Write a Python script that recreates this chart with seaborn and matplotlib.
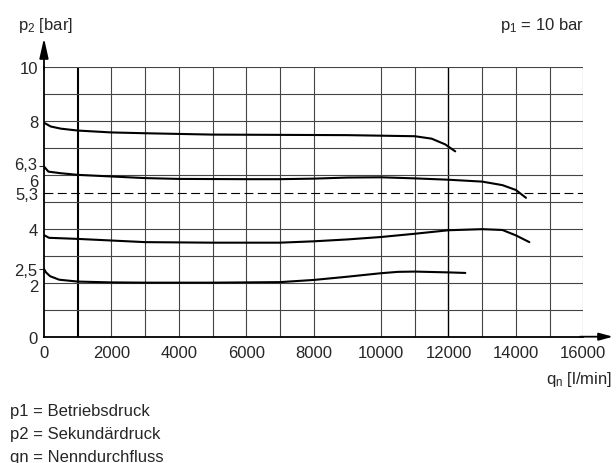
import numpy as np
import pandas as pd
import matplotlib
matplotlib.use("Agg")
import matplotlib.pyplot as plt
import matplotlib.transforms as mtransforms
import seaborn as sns

# Data (q in l/min, p in bar)
q_8 = [0, 200, 500, 1000, 2000, 3000, 5000, 7000, 9000, 10000, 11000, 11500, 11900, 12200]
p_8 = [7.92, 7.78, 7.70, 7.63, 7.56, 7.53, 7.48, 7.47, 7.46, 7.44, 7.42, 7.33, 7.12, 6.86]

q_6 = [0, 130, 500, 1000, 2000, 3000, 4000, 6000, 7000, 8000, 9000, 10000, 11000, 12000, 13000, 13600, 14000, 14300]
p_6 = [6.30, 6.11, 6.05, 5.99, 5.93, 5.87, 5.84, 5.83, 5.83, 5.85, 5.89, 5.90, 5.86, 5.81, 5.74, 5.61, 5.43, 5.14]

q_4 = [0, 150, 1000, 2000, 3000, 5000, 7000, 8000, 9000, 10000, 11000, 12000, 13000, 13600, 14000, 14400]
p_4 = [3.76, 3.66, 3.62, 3.56, 3.50, 3.48, 3.48, 3.53, 3.60, 3.69, 3.81, 3.94, 3.98, 3.95, 3.75, 3.50]

q_2 = [0, 60, 180, 450, 1000, 2000, 3000, 5000, 7000, 8000, 9000, 10000, 10500, 11000, 12000, 12500]
p_2 = [2.51, 2.38, 2.24, 2.11, 2.04, 2.01, 2.00, 2.00, 2.02, 2.10, 2.22, 2.35, 2.40, 2.41, 2.38, 2.36]

p_ref = 5.3
y_ticks = [0, 2, 4, 5.3, 6, 8, 10]
y_tick_labels = ["0", "2", "4", "5,3", "6", "8", "10"]
y_minor = [2.5, 6.3]
y_minor_labels = ["2,5", "6,3"]
x_ticks = list(range(0, 16001, 2000))
notes = ["p1 = Betriebsdruck", "p2 = Sekundärdruck", "qn = Nenndurchfluss"]

df = pd.concat([
    pd.DataFrame({"q": q_8, "p": p_8, "curve": "8"}),
    pd.DataFrame({"q": q_6, "p": p_6, "curve": "6"}),
    pd.DataFrame({"q": q_4, "p": p_4, "curve": "4"}),
    pd.DataFrame({"q": q_2, "p": p_2, "curve": "2"}),
])

sns.set_style("white")
plt.rcParams["font.family"] = ["Liberation Sans", "DejaVu Sans"]
plt.rcParams["mathtext.fontset"] = "custom"
plt.rcParams["mathtext.rm"] = "Liberation Sans"
plt.rcParams["mathtext.it"] = "Liberation Sans"

fig = plt.figure(figsize=(6.16, 4.64), dpi=100)
ax = fig.add_axes([0.0714, 0.2722, 0.8755, 0.5823])

# grid (no line at 9000 in the original)
for xv in range(1000, 16001, 1000):
    if xv == 9000:
        continue
    if xv == 1000:
        lw, col = 1.5, "black"
    elif xv == 12000:
        lw, col = 1.0, "black"
    else:
        lw, col = 0.8, "#444444"
    ax.axvline(xv, color=col, lw=lw, zorder=1)
for yv in range(1, 11):
    ax.axhline(yv, color="#444444", lw=0.8, zorder=1)
ax.axhline(p_ref, color="black", lw=0.8, dashes=(8, 4), zorder=1)

sns.lineplot(data=df, x="q", y="p", units="curve", estimator=None,
             color="black", lw=1.5, ax=ax, zorder=3)

ax.set_xlim(0, 16000)
ax.set_ylim(0, 10)
ax.set_xlabel("")
ax.set_ylabel("")

for s in ["top", "right"]:
    ax.spines[s].set_visible(False)
for s in ["left", "bottom"]:
    ax.spines[s].set_color("black")
    ax.spines[s].set_linewidth(1.3)

ax.set_xticks(x_ticks)
ax.set_xticklabels([str(v) for v in x_ticks])
ax.set_yticks(y_ticks)
ax.set_yticklabels(y_tick_labels)
ax.set_yticks(y_minor, minor=True)
ax.set_yticklabels(y_minor_labels, minor=True)
ax.tick_params(axis="x", length=0, pad=6, labelsize=12)
ax.tick_params(axis="y", which="major", length=0, pad=4.3, labelsize=12)
ax.tick_params(axis="y", which="minor", length=3.5, width=0.8, pad=1.2, labelsize=12, left=True)

# nudge crowded y labels like the original
shifts = {"6": -5, "2": -2}
for lab in ax.get_yticklabels():
    dy = shifts.get(lab.get_text(), 0)
    if dy:
        lab.set_transform(lab.get_transform() + mtransforms.ScaledTranslation(0, dy / 100, fig.dpi_scale_trans))
for lab in ax.get_yticklabels(minor=True):
    if lab.get_text() == "6,3":
        lab.set_transform(lab.get_transform() + mtransforms.ScaledTranslation(0, 0.03, fig.dpi_scale_trans))

# axis arrows
ax.annotate("", xy=(0, 11.05), xytext=(0, 9.9), annotation_clip=False,
            arrowprops=dict(arrowstyle="-|>,head_length=0.8,head_width=0.18",
                            color="black", lw=1.3, mutation_scale=15, shrinkA=0, shrinkB=0))
ax.annotate("", xy=(16880, 0), xytext=(15900, 0), annotation_clip=False,
            arrowprops=dict(arrowstyle="-|>,head_length=0.55,head_width=0.15",
                            color="black", lw=1.3, mutation_scale=15, shrinkA=0, shrinkB=0))

fig.text(0.029, 0.935, r"p$_{2}$ [bar]", fontsize=12, ha="left", va="baseline")
fig.text(0.948, 0.935, r"p$_{1}$ = 10 bar", fontsize=12, ha="right", va="baseline")
fig.text(0.994, 0.172, r"q$_{n}$ [l/min]", fontsize=12, ha="right", va="baseline")

for i, t in enumerate(notes):
    fig.text(0.016, 0.103 - i * 0.049, t, fontsize=12, ha="left", va="baseline")

fig.savefig("out.png", dpi=100)
